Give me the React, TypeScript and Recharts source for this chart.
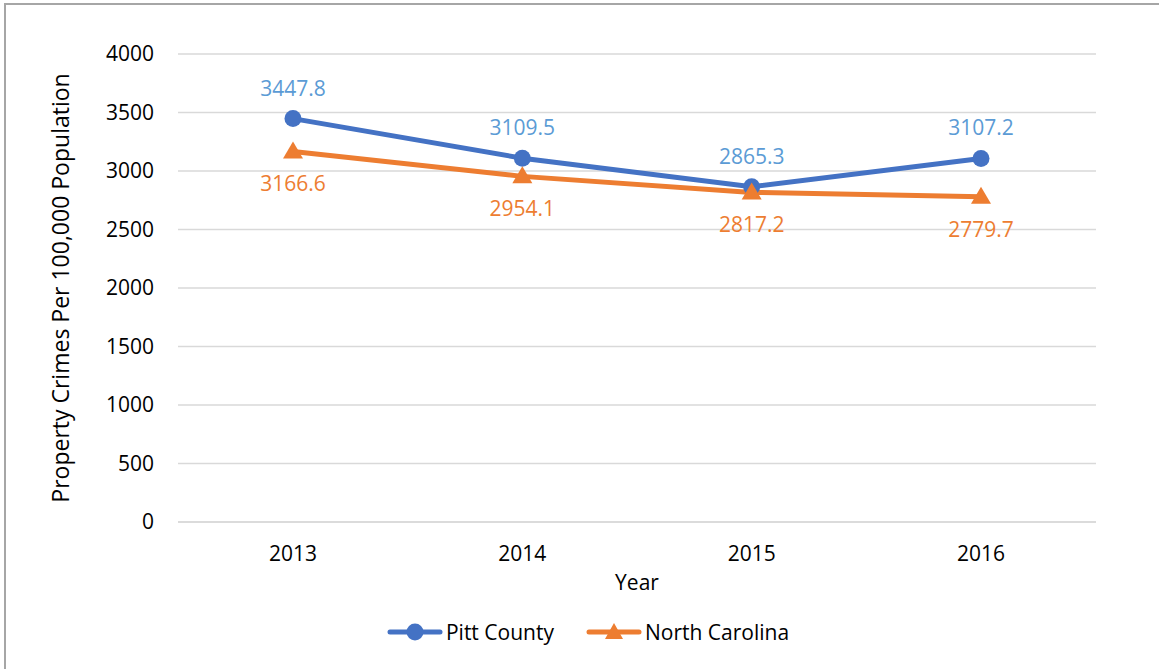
import React from 'react';
import {
    LineChart,
    Line,
    XAxis,
    YAxis,
    CartesianGrid,
    Legend,
    LabelList,
} from 'recharts';

const years = ['2013', '2014', '2015', '2016'];
const pittCounty = [3447.8, 3109.5, 2865.3, 3107.2];
const northCarolina = [3166.6, 2954.1, 2817.2, 2779.7];
const yTicks = [0, 500, 1000, 1500, 2000, 2500, 3000, 3500, 4000];

const data = years.map((year, i) => ({
    year,
    pitt: pittCounty[i],
    nc: northCarolina[i],
}));

const BLUE = '#4472C4';
const ORANGE = '#ED7D31';
const FONT = '"Open Sans", sans-serif';
const FS = 21;

const TriangleDot = (props: any) => {
    const { cx, cy } = props;
    if (cx == null || cy == null) return null;
    return (
        <path
            d={`M${cx},${cy - 10} L${cx + 10},${cy + 7} L${cx - 10},${cy + 7} Z`}
            fill={ORANGE}
        />
    );
};

const LegendContent = () => {
    const item = (color: string, label: string, marker: 'circle' | 'triangle') => (
        <span style={{ display: 'inline-flex', alignItems: 'center', margin: '0 16px' }}>
            <svg width={56} height={20} style={{ marginRight: 3 }}>
                <line x1={3} y1={10} x2={53} y2={10} stroke={color} strokeWidth={5} strokeLinecap="round" />
                {marker === 'circle' ? (
                    <circle cx={28} cy={10} r={8.5} fill={color} />
                ) : (
                    <path d="M28,1 L37,17 L19,17 Z" fill={color} />
                )}
            </svg>
            <span style={{ color: '#000', fontSize: FS, fontFamily: FONT }}>{label}</span>
        </span>
    );
    return (
        <div
            style={{
                display: 'flex',
                justifyContent: 'center',
                alignItems: 'center',
                height: 30,
                paddingLeft: 80,
            }}
        >
            {item(BLUE, 'Pitt County', 'circle')}
            {item(ORANGE, 'North Carolina', 'triangle')}
        </div>
    );
};

const YLabel = ({ viewBox }: any) => {
    const x = viewBox.x + 60;
    const cy = viewBox.y + viewBox.height / 2;
    return (
        <text
            x={x}
            y={cy}
            transform={`rotate(-90, ${x}, ${cy})`}
            textAnchor="middle"
            dominantBaseline="central"
            fill="#000"
            fontSize={23}
            fontFamily={FONT}
        >
            Property Crimes Per 100,000 Population
        </text>
    );
};

export default function App() {
    return (
        <div style={{ position: 'absolute', left: 0, top: 0, width: 1159, height: 669, background: '#fff', overflow: 'hidden' }}>
            <div
                style={{
                    position: 'absolute',
                    left: 4,
                    top: 3,
                    width: 1160,
                    height: 670,
                    borderLeft: '2px solid #a6a6a6',
                    borderTop: '2px solid #a6a6a6',
                }}
            />
            <LineChart
                width={1159}
                height={669}
                data={data}
                margin={{ top: 54, right: 63, left: 0, bottom: 22 }}
                style={{ fontFamily: FONT }}
            >
                <CartesianGrid vertical={false} stroke="#d9d9d9" strokeWidth={1.5} />
                <XAxis
                    dataKey="year"
                    height={95}
                    padding={{ left: 115, right: 115 }}
                    tickLine={false}
                    axisLine={{ stroke: '#d9d9d9', strokeWidth: 1.5 }}
                    tickSize={0}
                    tickMargin={24}
                    tick={{ fill: '#000', fontSize: FS, fontFamily: FONT }}
                    label={{ value: 'Year', position: 'insideTop', offset: 53, fill: '#000', fontSize: FS, fontFamily: FONT }}
                />
                <YAxis
                    width={178}
                    domain={[0, 4000]}
                    ticks={yTicks}
                    axisLine={false}
                    tickLine={false}
                    tickSize={0}
                    tickMargin={24}
                    tick={{ fill: '#000', fontSize: FS, fontFamily: FONT }}
                    label={<YLabel />}
                />
                <Legend verticalAlign="bottom" height={30} content={<LegendContent />} />
                <Line
                    dataKey="pitt"
                    name="Pitt County"
                    stroke={BLUE}
                    strokeWidth={5}
                    dot={{ r: 8.5, fill: BLUE, stroke: BLUE, strokeWidth: 0 }}
                    isAnimationActive={false}
                >
                    <LabelList dataKey="pitt" position="top" offset={23} fill="#5B9BD5" fontSize={FS} fontFamily={FONT} />
                </Line>
                <Line
                    dataKey="nc"
                    name="North Carolina"
                    stroke={ORANGE}
                    strokeWidth={5}
                    dot={<TriangleDot />}
                    isAnimationActive={false}
                >
                    <LabelList dataKey="nc" position="bottom" offset={25} fill={ORANGE} fontSize={FS} fontFamily={FONT} />
                </Line>
            </LineChart>
        </div>
    );
}
